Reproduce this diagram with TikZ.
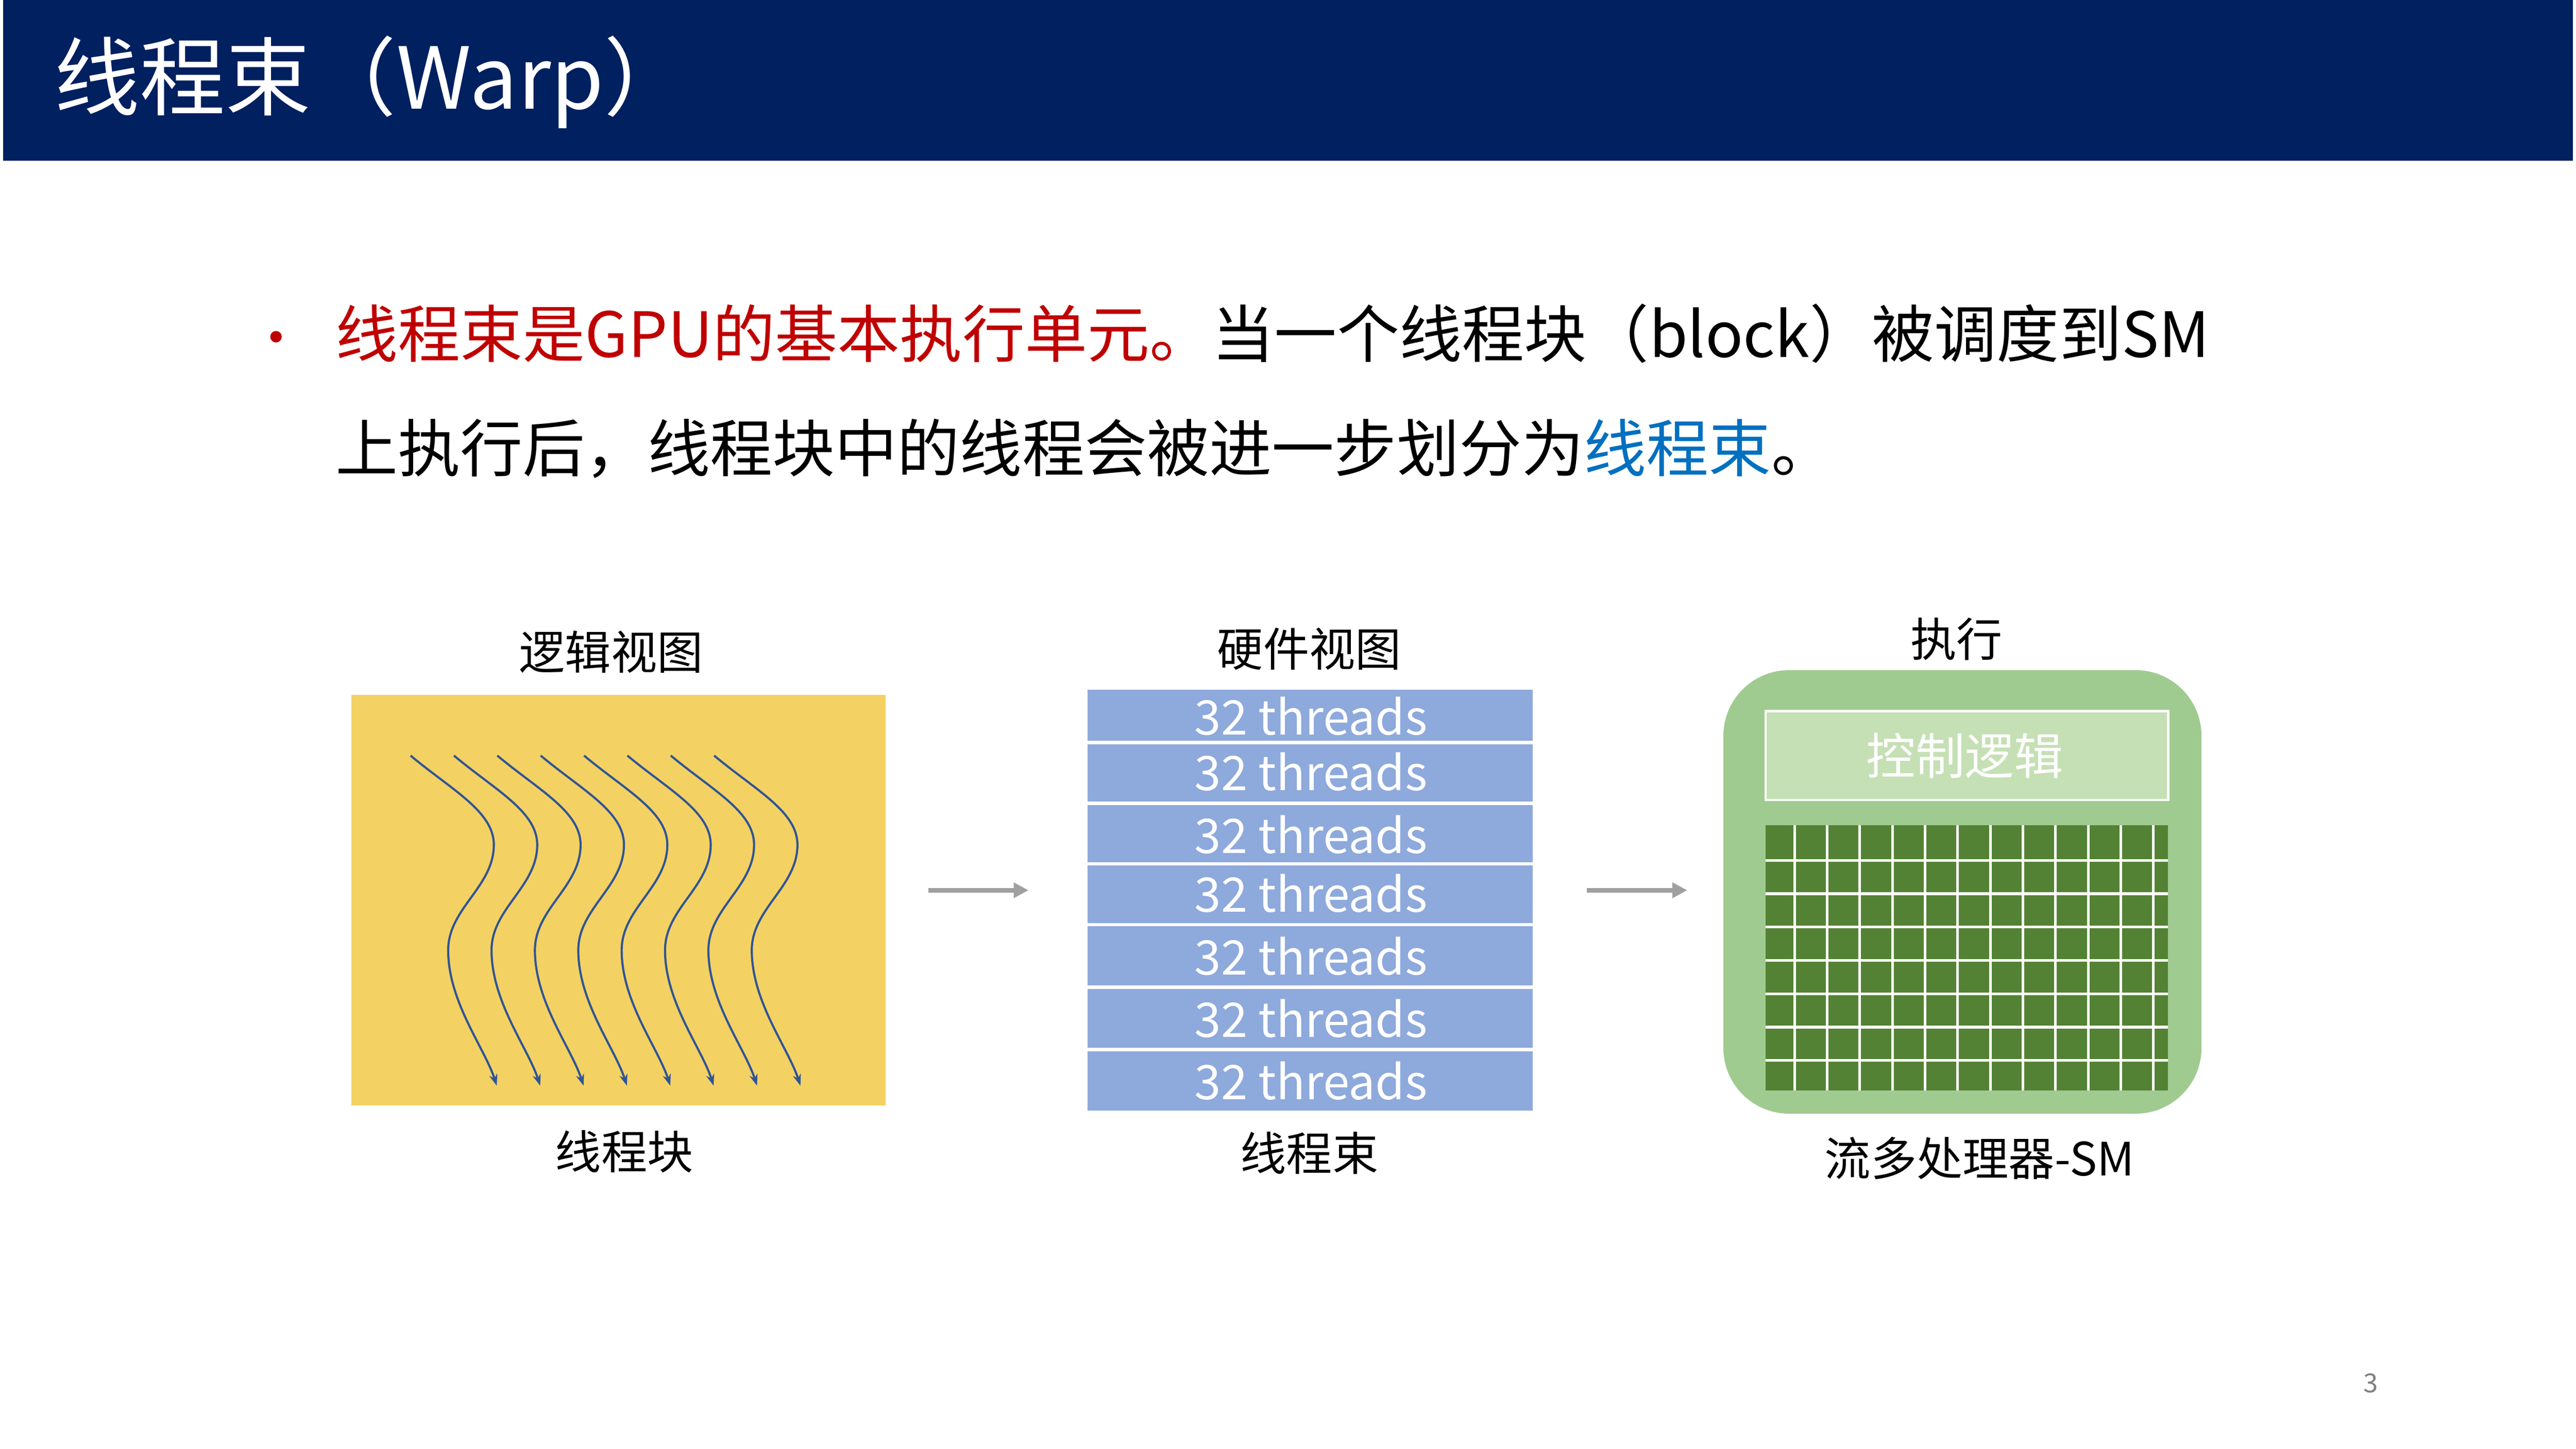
\documentclass[tikz,border=0pt]{standalone}
\usepackage{fontspec}
\setmainfont{Noto Sans CJK SC}
\usetikzlibrary{arrows.meta}
\definecolor{navy}{RGB}{0,32,96}
\definecolor{bred}{RGB}{192,0,0}
\definecolor{bblue}{RGB}{0,112,192}
\definecolor{yel}{RGB}{244,209,99}
\definecolor{curve}{RGB}{47,85,151}
\definecolor{thr}{RGB}{142,169,219}
\definecolor{smg}{RGB}{160,203,144}
\definecolor{ctl}{RGB}{197,224,180}
\definecolor{dg}{RGB}{84,130,53}
\definecolor{arr}{RGB}{160,160,160}
\newcommand{\fsz}[1]{\fontsize{#1pt}{#1pt}\selectfont}
\tikzset{
  lbl/.style={inner sep=0, font=\fsz{28}},
  thread/.style={draw=white, line width=2pt, fill=thr},
  thtext/.style={inner sep=0, text=white, font=\fsz{29}},
  wave/.style={draw=curve, line width=1.3pt, -{Stealth[length=7pt,width=5pt]}},
  bigarrow/.style={draw=arr, line width=3pt, -{Triangle[length=9pt,width=9pt]}},
  gridline/.style={draw=white, line width=1.6pt}
}
\begin{document}
\begin{tikzpicture}[x=1pt,y=-1pt]
\useasboundingbox (0,0) rectangle (1568,882);
\fill[white] (0,0) rectangle (1568,882);
% title
\fill[navy] (2,0) rectangle (1566,98);
\node[anchor=west, inner sep=0, text=white, font=\fsz{52}] (title) at (33,50) {线程束（Warp）};
% bullet
\fill[bred] (168,205) circle (3.5);
\node[anchor=west, inner sep=0, font=\fsz{38}] (l1) at (204,203) {\textcolor{bred}{线程束是GPU的基本执行单元。}当一个线程块（block）被调度到SM};
\node[anchor=west, inner sep=0, font=\fsz{38}] (l2) at (204,273) {上执行后，线程块中的线程会被进一步划分为\textcolor{bblue}{线程束}。};
% logical view
\node[lbl] (lv) at (372,397) {逻辑视图};
\node[fill=yel, minimum width=325pt, minimum height=250pt, inner sep=0] (blk) at (376.5,548) {};
\node[lbl] (blkl) at (380,701) {线程块};
\foreach \i in {0,...,7}{
  \begin{scope}[xshift=\i*26.4pt]
  \draw[wave] (249.9,460) .. controls (275,481) and (300.6,494) .. (300.6,514.3)
     .. controls (300.6,540) and (272.8,553) .. (272.8,578.5)
     .. controls (272.8,610) and (295,638) .. (302.4,661);
  \end{scope}
}
% arrows
\coordinate (a1s) at (565,542); \coordinate (a1e) at (626,542);
\coordinate (a2s) at (966,542); \coordinate (a2e) at (1027,542);
\draw[bigarrow] (a1s) -- (a1e);
\draw[bigarrow] (a2s) -- (a2e);
% hardware view
\node[lbl] (hv) at (797,395) {硬件视图};
\foreach \t/\b/\c [count=\k] in {419/452/436, 452/489/470, 489/526/508, 526/563/544, 563/601/582, 601/639/620, 639/677/658}{
  \draw[thread] (661,\t) rectangle (934,\b);
  \node[thtext] (t\k) at (798,\c) {32 threads};
}
\node[lbl] (wl) at (797,702) {线程束};
% SM
\node[lbl] (ex) at (1191,389) {执行};
\fill[smg, rounded corners=40pt] (1049,408) rectangle (1340,678);
\node[draw=white, line width=1.5pt, fill=ctl, minimum width=245pt, minimum height=54pt, inner sep=0] (ctrl) at (1197.2,460) {};
\node[thtext, font=\fsz{30}] (ctrlt) at (1196,460) {控制逻辑};
\fill[dg] (1074.7,502.4) rectangle (1319.7,664);
\foreach \j in {0,...,11}{ \draw[gridline] (1092.3+\j*19.86,502.4) -- (1092.3+\j*19.86,664); }
\foreach \j in {0,...,6}{ \draw[gridline] (1074.7,523.8+\j*20.3) -- (1319.7,523.8+\j*20.3); }
\node[lbl] (sml) at (1205,705) {流多处理器-SM};
\node[inner sep=0, text=gray, font=\fsz{16}] (pg) at (1443,842) {3};
\end{tikzpicture}
\end{document}
